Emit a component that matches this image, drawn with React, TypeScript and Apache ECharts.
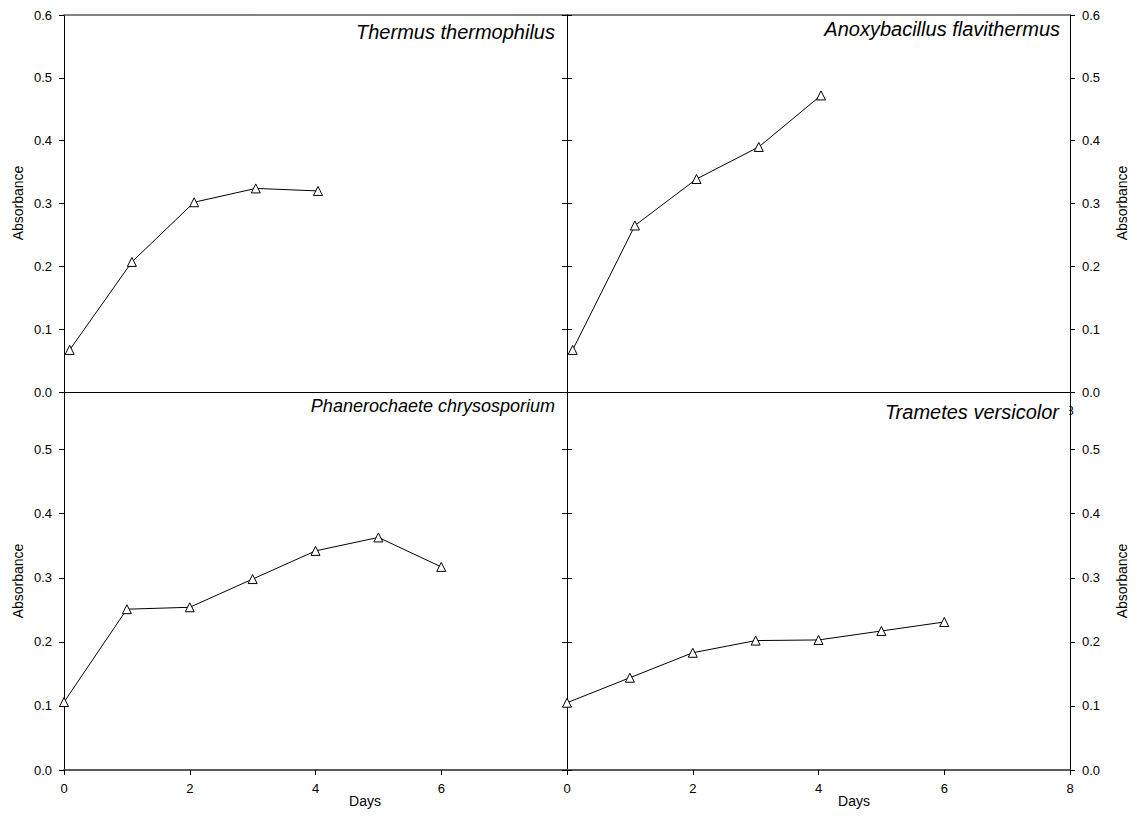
import React, { useEffect, useRef } from "react";
import * as echarts from "echarts";

// Absorbance readings per organism (days, absorbance)
const thermusDays = [0.09, 1.08, 2.07, 3.05, 4.04];
const thermusAbs = [0.067, 0.207, 0.302, 0.324, 0.32];

const anoxyDays = [0.09, 1.08, 2.06, 3.05, 4.04];
const anoxyAbs = [0.067, 0.265, 0.339, 0.39, 0.472];

const phanDays = [0, 1, 2, 3, 4, 5, 6];
const phanAbs = [0.106, 0.251, 0.254, 0.298, 0.342, 0.363, 0.317];

const tramDays = [0, 1, 2, 3, 4, 5, 6];
const tramAbs = [0.105, 0.144, 0.183, 0.202, 0.203, 0.217, 0.231];

const panelTitles = [
  "Thermus thermophilus",
  "Anoxybacillus flavithermus",
  "Phanerochaete chrysosporium",
  "Trametes versicolor",
];
const xName = "Days";
const yName = "Absorbance";

const FONT = "'Liberation Sans', Arial, Helvetica, sans-serif";

const pairs = (xs: number[], ys: number[]) => xs.map((x, i) => [x, ys[i]]);

export default function App() {
  const ref = useRef<HTMLDivElement>(null);

  useEffect(() => {
    if (!ref.current) return;
    const chart = echarts.init(ref.current, null, { renderer: "svg" });

    const L = 64;
    const W = 503;

    const black = "#000";
    const grey = "#5a5a5a";

    const tickLabel = { color: black, fontSize: 13, fontFamily: FONT };

    const yLabeled = (grid: number, pos: "left" | "right", max: number) => ({
      type: "value",
      gridIndex: grid,
      position: pos,
      min: 0,
      max,
      interval: 0.1,
      axisLine: { show: true, onZero: false, lineStyle: { color: black, width: 1 } },
      axisTick: { show: true, length: 5, lineStyle: { color: black } },
      axisLabel: {
        ...tickLabel,
        margin: 12,
        showMaxLabel: max === 0.6,
        formatter: (v: number) => v.toFixed(1),
      },
      splitLine: { show: false },
    });
    const yPlain = (grid: number, pos: "left" | "right", max: number) => ({
      type: "value",
      gridIndex: grid,
      position: pos,
      min: 0,
      max,
      interval: 0.1,
      axisLine: { show: true, onZero: false, lineStyle: { color: black, width: 1 } },
      axisTick: { show: true, length: 5, lineStyle: { color: black } },
      axisLabel: { show: false },
      splitLine: { show: false },
    });
    const xBase = {
      type: "value",
      min: 0,
      max: 8,
      interval: 2,
      splitLine: { show: false },
    };

    const seriesStyle = {
      type: "line",
      symbol: "triangle",
      symbolSize: 9,
      lineStyle: { color: black, width: 1 },
      itemStyle: { color: "#fff", borderColor: black, borderWidth: 1 },
      z: 5,
    };

    const titleText = (text: string, x: number, y: number, size: number) => ({
      type: "text",
      x,
      y,
      z: 50,
      style: {
        text,
        align: "right",
        verticalAlign: "middle",
        font: `italic ${size}px ${FONT}`,
        fill: black,
      },
    });
    const nameText = (text: string, x: number, y: number, rotate: boolean) => ({
      type: "text",
      x,
      y,
      rotation: rotate ? Math.PI / 2 : 0,
      z: 50,
      style: {
        text,
        align: "center",
        verticalAlign: "middle",
        font: `14px ${FONT}`,
        fill: black,
      },
    });

    chart.setOption({
      animation: false,
      backgroundColor: "#fff",
      grid: [
        { left: L, top: 15, width: W, height: 377 },
        { left: L + W, top: 15, width: W, height: 377 },
        { left: L, top: 392, width: W, height: 378 },
        { left: L + W, top: 392, width: W, height: 378 },
      ],
      xAxis: [
        // top-left panel
        {
          ...xBase,
          gridIndex: 0,
          position: "bottom",
          axisLine: { show: true, onZero: false, lineStyle: { color: black, width: 1 } },
          axisTick: { show: false },
          axisLabel: { show: false },
        },
        {
          ...xBase,
          gridIndex: 0,
          position: "top",
          axisLine: { show: true, onZero: false, lineStyle: { color: grey, width: 1.5 } },
          axisTick: { show: false },
          axisLabel: { show: false },
        },
        // top-right panel
        {
          ...xBase,
          gridIndex: 1,
          position: "bottom",
          axisLine: { show: true, onZero: false, lineStyle: { color: black, width: 1 } },
          axisTick: { show: false },
          axisLabel: {
            ...tickLabel,
            margin: 12,
            formatter: (v: number) => (v === 8 ? "8" : ""),
          },
        },
        {
          ...xBase,
          gridIndex: 1,
          position: "top",
          axisLine: { show: true, onZero: false, lineStyle: { color: grey, width: 1.5 } },
          axisTick: { show: false },
          axisLabel: { show: false },
        },
        // bottom-left panel
        {
          ...xBase,
          gridIndex: 2,
          position: "bottom",
          axisLine: { show: true, onZero: false, lineStyle: { color: grey, width: 2 } },
          axisTick: { show: true, length: 5, lineStyle: { color: black } },
          axisLabel: { ...tickLabel, margin: 12, showMaxLabel: false },
        },
        // bottom-right panel
        {
          ...xBase,
          gridIndex: 3,
          position: "bottom",
          axisLine: { show: true, onZero: false, lineStyle: { color: grey, width: 2 } },
          axisTick: { show: true, length: 5, lineStyle: { color: black } },
          axisLabel: { ...tickLabel, margin: 12 },
        },
      ],
      yAxis: [
        yLabeled(0, "left", 0.6),
        yPlain(0, "right", 0.6),
        yPlain(1, "left", 0.6),
        yLabeled(1, "right", 0.6),
        yLabeled(2, "left", 0.59),
        yPlain(2, "right", 0.59),
        yPlain(3, "left", 0.59),
        yLabeled(3, "right", 0.59),
      ],
      series: [
        { ...seriesStyle, name: panelTitles[0], xAxisIndex: 0, yAxisIndex: 0, data: pairs(thermusDays, thermusAbs) },
        { ...seriesStyle, name: panelTitles[1], xAxisIndex: 2, yAxisIndex: 3, data: pairs(anoxyDays, anoxyAbs) },
        { ...seriesStyle, name: panelTitles[2], xAxisIndex: 4, yAxisIndex: 4, data: pairs(phanDays, phanAbs) },
        { ...seriesStyle, name: panelTitles[3], xAxisIndex: 5, yAxisIndex: 7, data: pairs(tramDays, tramAbs) },
      ],
      graphic: [
        // white patch that clips the stray "8" under the lower-right panel title
        {
          type: "rect",
          z: 40,
          shape: { x: 1052, y: 398, width: 17.4, height: 24 },
          style: { fill: "#fff" },
        },
        titleText(panelTitles[0], 555, 31.5, 20),
        titleText(panelTitles[1], 1060, 28.5, 20),
        titleText(panelTitles[2], 555, 406, 18),
        titleText(panelTitles[3], 1059, 411.5, 20),
        nameText(xName, 365, 801, false),
        nameText(xName, 854, 801, false),
        nameText(yName, 18, 203, true),
        nameText(yName, 18, 581, true),
        nameText(yName, 1122, 203, true),
        nameText(yName, 1122, 581, true),
      ],
    });

    return () => chart.dispose();
  }, []);

  return (
    <div
      ref={ref}
      style={{ position: "fixed", left: 0, top: 0, width: 1140, height: 818 }}
    />
  );
}
